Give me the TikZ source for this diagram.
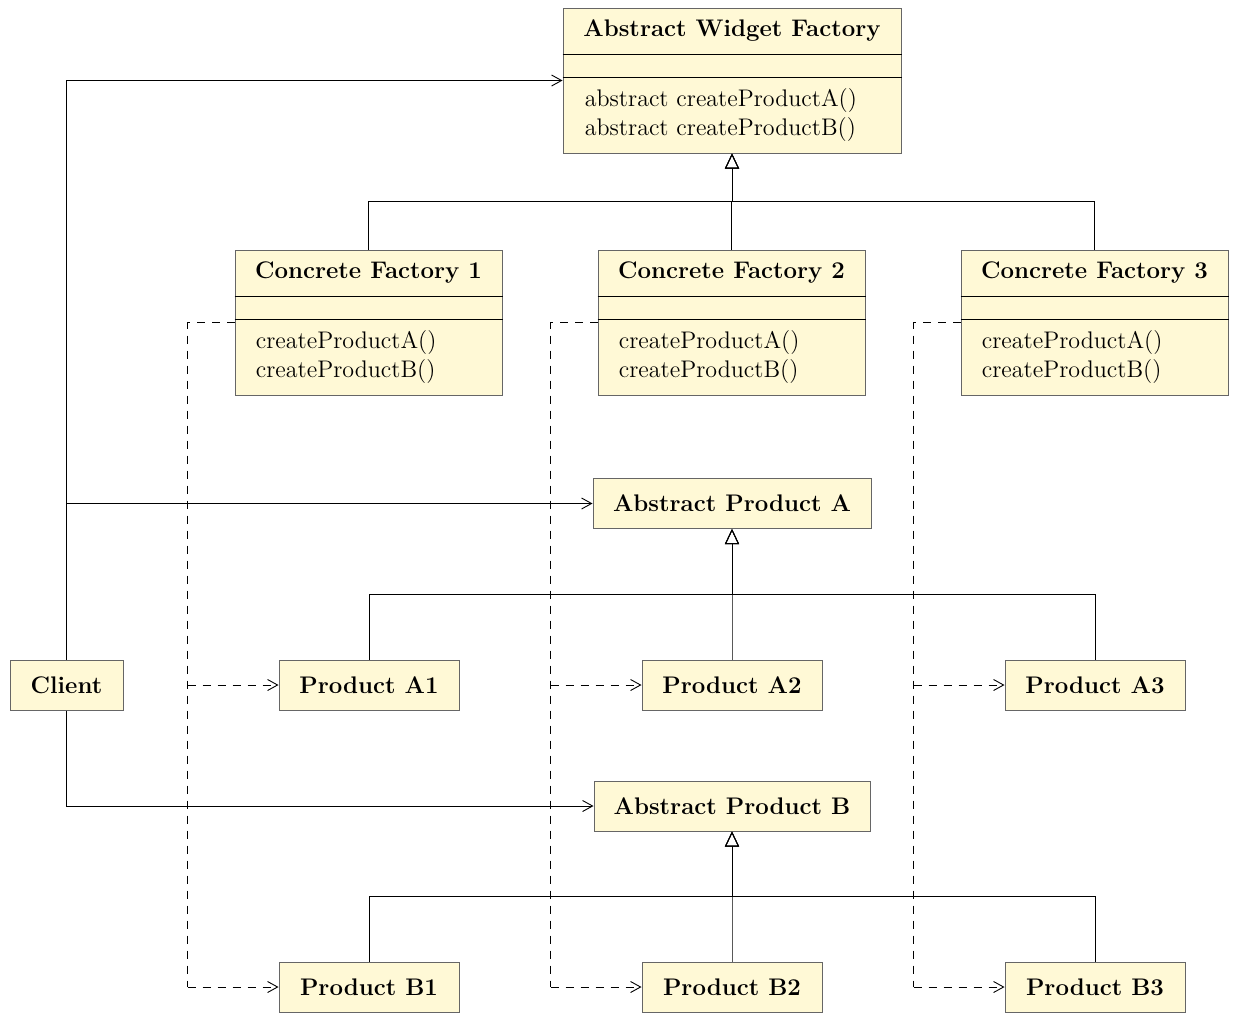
\documentclass[tikz,border=0pt]{standalone}
\usetikzlibrary{arrows.meta,calc}
\definecolor{boxfill}{RGB}{255,249,214}
\begin{document}
\begin{tikzpicture}[x=0.5pt,y=-0.5pt,
  box/.style={draw=black!60, fill=boxfill, rectangle, inner sep=0pt, line width=0.5pt},
  smallbox/.style={box, font=\large\bfseries, minimum height=25pt},
  clsbox/.style={box, minimum width=#1, minimum height=72.5pt},
  title/.style={font=\large\bfseries, anchor=base, inner sep=0pt},
  op/.style={font=\large, anchor=base west, inner sep=0pt},
  divider/.style={draw=black, line width=0.4pt},
  inh/.style={line width=0.45pt, -{Triangle[open,length=7.5pt,width=7pt]}},
  assoc/.style={line width=0.45pt, -{Straight Barb[length=5pt,width=5.5pt]}},
  dep/.style={line width=0.45pt, dash pattern=on 4pt off 3.5pt},
  deparrow/.style={dep, -{Straight Barb[length=5pt,width=5.5pt]}}
]
\useasboundingbox (0,0) rectangle (1233,1013);

% ---------- class boxes ----------
\node[clsbox=169pt] (awf) at (732,80.5) {};
\node[clsbox=133.5pt] (cf1) at (368.5,322.5) {};
\node[clsbox=133.5pt] (cf2) at (731.5,322.5) {};
\node[clsbox=133.5pt] (cf3) at (1094.5,322.5) {};

\foreach \n/\t in {awf/Abstract Widget Factory, cf1/Concrete Factory 1, cf2/Concrete Factory 2, cf3/Concrete Factory 3}{
  \node[title] at ($(\n.north)+(0,29)$) {\t};
  \draw[divider] ($(\n.north west)+(0,47)$) -- ($(\n.north east)+(0,47)$);
  \draw[divider] ($(\n.north west)+(0,70)$) -- ($(\n.north east)+(0,70)$);
}
\node[op] at ($(awf.north west)+(22,99)$) {abstract createProductA()};
\node[op] at ($(awf.north west)+(22,128)$) {abstract createProductB()};
\foreach \n in {cf1,cf2,cf3}{
  \node[op] at ($(\n.north west)+(21,99)$) {createProductA()};
  \node[op] at ($(\n.north west)+(21,128)$) {createProductB()};
}

% ---------- simple boxes ----------
\node[smallbox, minimum width=139pt] (absa) at (732,503.5) {Abstract Product A};
\node[smallbox, minimum width=138pt] (absb) at (732,806) {Abstract Product B};
\node[smallbox, minimum width=56.5pt] (client) at (66.5,685) {Client};
\node[smallbox, minimum width=90pt] (pa1) at (369,685) {Product A1};
\node[smallbox, minimum width=90pt] (pa2) at (732,685) {Product A2};
\node[smallbox, minimum width=90pt] (pa3) at (1095,685) {Product A3};
\node[smallbox, minimum width=90pt] (pb1) at (369,987) {Product B1};
\node[smallbox, minimum width=90pt] (pb2) at (732,987) {Product B2};
\node[smallbox, minimum width=90pt] (pb3) at (1095,987) {Product B3};

% ---------- generalisation ----------
\foreach \c in {cf1,cf2,cf3}
  \draw[inh] (\c.north) -- ++(0,-48) -| (awf.south);
\foreach \c in {pa1,pa2,pa3}
  \draw[inh] (\c.north) -- ++(0,-65) -| (absa.south);
\foreach \c in {pb1,pb2,pb3}
  \draw[inh] (\c.north) -- ++(0,-65) -| (absb.south);

% ---------- client associations ----------
\draw[assoc] (client.north) |- (awf.west);
\draw[assoc] (client.north |- absa.west) -- (absa.west);
\draw[assoc] (client.south) |- (absb.west);

% ---------- creation dependencies ----------
\foreach \i in {1,2,3}{
  \coordinate (d\i) at ($(cf\i.west)+(-47,0)$);
  \draw[dep] (cf\i.west) -- (d\i) -- (d\i |- pb\i.west);
  \draw[deparrow] (d\i |- pb\i.west) -- (pb\i.west);
  \draw[deparrow] (d\i |- pa\i.west) -- (pa\i.west);
}
\end{tikzpicture}
\end{document}
